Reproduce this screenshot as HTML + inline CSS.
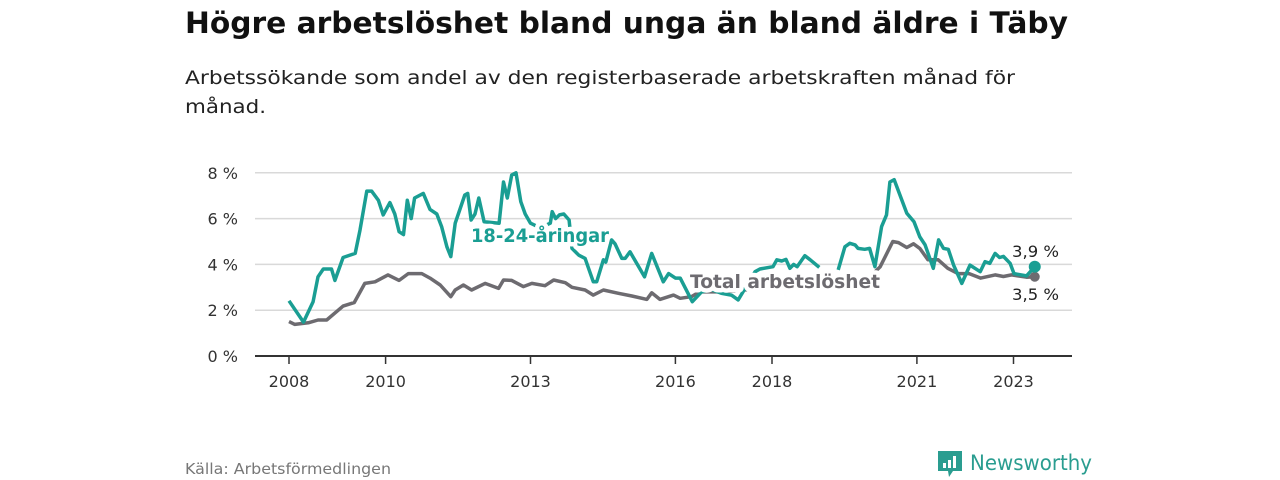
<!DOCTYPE html>
<html><head><meta charset="utf-8"><style>
html,body{margin:0;padding:0;background:#fff;width:1280px;height:480px;overflow:hidden}
svg{display:block;font-family:"Liberation Sans",sans-serif}
.dj{font-family:"DejaVu Sans","Liberation Sans",sans-serif}
</style></head><body>
<svg id="chart" width="1280" height="480" viewBox="0 0 1280 480">
<text class="dj" x="185" y="33" font-size="29" font-weight="bold" fill="#111" textLength="883" lengthAdjust="spacingAndGlyphs">Högre arbetslöshet bland unga än bland äldre i Täby</text>
<text class="dj" x="185" y="84" font-size="19" fill="#222" textLength="830" lengthAdjust="spacingAndGlyphs">Arbetssökande som andel av den registerbaserade arbetskraften månad för</text>
<text class="dj" x="185" y="113" font-size="19" fill="#222" textLength="81" lengthAdjust="spacingAndGlyphs">månad.</text>
<g id="grid"></g><g id="axes"></g><g id="series"></g><g id="labels"></g>
<text class="dj" x="185" y="474" font-size="15" fill="#777" textLength="206" lengthAdjust="spacingAndGlyphs">Källa: Arbetsförmedlingen</text>
<g>
<path d="M938 451 h24 v20 h-9 l-4 6 l-1 -6 h-10 z" fill="#2a9d90"/>
<rect x="943" y="463" width="3" height="5" fill="#fff"/><rect x="948" y="460" width="3" height="8" fill="#fff"/><rect x="953" y="456" width="3" height="12" fill="#fff"/>
<text class="dj" x="970" y="470" font-size="21" fill="#2a9d90" textLength="122" lengthAdjust="spacingAndGlyphs">Newsworthy</text>
</g>
</svg>
<script>
const youthDates=[2008.0,2008.3,2008.5,2008.6,2008.71,2008.88,2008.95,2009.12,2009.37,2009.47,2009.61,2009.71,2009.85,2009.95,2010.09,2010.19,2010.28,2010.37,2010.45,2010.53,2010.6,2010.78,2010.92,2011.06,2011.16,2011.27,2011.35,2011.44,2011.64,2011.7,2011.77,2011.85,2011.93,2012.04,2012.35,2012.44,2012.52,2012.61,2012.7,2012.8,2012.89,2013.0,2013.2,2013.41,2013.45,2013.52,2013.6,2013.69,2013.8,2013.86,2014.0,2014.13,2014.3,2014.37,2014.51,2014.56,2014.68,2014.75,2014.89,2014.96,2015.06,2015.36,2015.51,2015.75,2015.86,2016.0,2016.1,2016.35,2016.54,2016.75,2016.95,2017.16,2017.3,2017.4,2017.65,2017.75,2018.02,2018.1,2018.2,2018.29,2018.37,2018.45,2018.52,2018.68,2018.79,2018.98,2019.15,2019.37,2019.51,2019.61,2019.72,2019.78,2019.92,2020.02,2020.13,2020.27,2020.37,2020.44,2020.53,2020.79,2020.94,2021.06,2021.17,2021.34,2021.45,2021.55,2021.65,2021.76,2021.93,2022.1,2022.31,2022.41,2022.51,2022.62,2022.71,2022.79,2022.93,2023.01,2023.27,2023.44];
const youthValues=[2.41,1.48,2.37,3.46,3.8,3.8,3.3,4.3,4.48,5.5,7.2,7.2,6.8,6.16,6.7,6.2,5.43,5.3,6.8,6.0,6.9,7.1,6.4,6.2,5.65,4.77,4.34,5.8,7.03,7.1,5.94,6.2,6.9,5.86,5.8,7.6,6.9,7.9,8.0,6.74,6.2,5.8,5.6,5.8,6.3,6.0,6.16,6.2,5.94,4.7,4.4,4.26,3.24,3.24,4.2,4.1,5.07,4.9,4.26,4.26,4.55,3.46,4.48,3.24,3.6,3.4,3.4,2.37,2.8,2.9,2.74,2.66,2.45,2.8,3.68,3.8,3.9,4.2,4.15,4.22,3.83,4.0,3.9,4.38,4.2,3.87,null,3.76,4.77,4.92,4.85,4.7,4.66,4.7,3.9,5.65,6.16,7.6,7.7,6.23,5.86,5.2,4.85,3.83,5.07,4.7,4.66,3.97,3.17,3.97,3.68,4.12,4.05,4.48,4.3,4.35,4.05,3.6,3.5,3.9];
const totalDates=[2008.0,2008.12,2008.4,2008.6,2008.78,2009.12,2009.35,2009.57,2009.78,2010.05,2010.28,2010.47,2010.75,2010.92,2011.13,2011.35,2011.44,2011.61,2011.78,2012.06,2012.34,2012.44,2012.61,2012.85,2013.03,2013.3,2013.48,2013.72,2013.86,2014.13,2014.3,2014.51,2014.82,2015.1,2015.41,2015.51,2015.68,2015.96,2016.1,2016.33,2016.5,2017.0,2017.5,2018.0,2018.5,2019.0,2019.5,2019.9,2020.24,2020.5,2020.62,2020.79,2020.93,2021.06,2021.23,2021.44,2021.64,2021.85,2022.08,2022.32,2022.62,2022.79,2022.96,2023.27,2023.44];
const totalValues=[1.5,1.38,1.45,1.57,1.57,2.18,2.33,3.17,3.24,3.54,3.3,3.6,3.6,3.4,3.1,2.59,2.88,3.1,2.88,3.17,2.95,3.32,3.3,3.03,3.17,3.07,3.32,3.2,3.0,2.88,2.66,2.88,2.74,2.62,2.47,2.76,2.47,2.66,2.52,2.59,2.8,2.8,2.9,3.0,3.1,3.0,3.1,3.2,3.9,5.0,4.95,4.74,4.9,4.7,4.2,4.2,3.83,3.6,3.6,3.4,3.54,3.47,3.54,3.44,3.46];
const yTicks=[0,2,4,6,8];
const yTickLabels=["0 %","2 %","4 %","6 %","8 %"];
const xTicks=[2008,2010,2013,2016,2018,2021,2023];
const xTickLabels=["2008","2010","2013","2016","2018","2021","2023"];

const NS="http://www.w3.org/2000/svg";
const xS=d=>289+(d-2008)*48.3;
const yS=v=>356-v*22.9;
function mk(tag,attrs,parent){const e=document.createElementNS(NS,tag);for(const k in attrs)e.setAttribute(k,attrs[k]);parent.appendChild(e);return e;}
const grid=document.getElementById('grid'),axes=document.getElementById('axes'),ser=document.getElementById('series'),lab=document.getElementById('labels');
yTicks.forEach((t,i)=>{
  if(t>0){const l=mk('line',{x1:255,x2:1072,y1:yS(t),y2:yS(t),stroke:'#d9d9d9','stroke-width':1.5},grid);
  
  }
  const tx=mk('text',{x:238,y:yS(t)+6,'font-size':16,fill:'#333','text-anchor':'end',class:'dj'},axes);
  tx.textContent=yTickLabels[i];
  
  
});
const ax=mk('line',{x1:255,x2:1072,y1:356,y2:356,stroke:'#333','stroke-width':2},axes);


xTicks.forEach((t,i)=>{
  const tk=mk('line',{x1:xS(t),x2:xS(t),y1:356,y2:364,stroke:'#333','stroke-width':1.5},axes);
  
  
  const tx=mk('text',{x:xS(t),y:387,'font-size':16,fill:'#333','text-anchor':'middle',class:'dj'},axes);
  tx.textContent=xTickLabels[i];
  
  
});
function line(d,v){let s='',pen=false;d.forEach((x,i)=>{if(v[i]==null){pen=false;return;}s+=(pen?'L':'M')+xS(x).toFixed(1)+' '+yS(v[i]).toFixed(1)+' ';pen=true;});return s;}
const pt=mk('path',{d:line(totalDates,totalValues),fill:'none',stroke:'#6d6b70','stroke-width':3.5,'stroke-linejoin':'round'},ser);


const py=mk('path',{d:line(youthDates,youthValues),fill:'none',stroke:'#1a9e93','stroke-width':3.5,'stroke-linejoin':'round'},ser);


const dt=mk('circle',{cx:xS(totalDates[totalDates.length-1]),cy:yS(totalValues[totalValues.length-1]),r:5,fill:'#6d6b70'},ser);


const dy=mk('circle',{cx:xS(youthDates[youthDates.length-1]),cy:yS(youthValues[youthValues.length-1]),r:6,fill:'#1a9e93'},ser);


function label(txt,x,y,col,size,bold,name,len){
  const t=mk('text',{x:x,y:y,'font-size':size,fill:col,'font-weight':bold?'bold':'normal',stroke:'#fff','stroke-width':bold?9:4,'paint-order':'stroke','stroke-linejoin':'round',class:'dj'},lab);
  if(len){t.setAttribute('textLength',len);t.setAttribute('lengthAdjust','spacingAndGlyphs');}
  t.textContent=txt;
  
  
}
label('18-24-åringar',471,242,'#1a9e93',19,true,'youth-series-label',138);
label('Total arbetslöshet',690,288,'#6d6b70',19,true,'total-series-label',190);
label('3,9 %',1012,257,'#222',16,false,'youth-end-value',47);
label('3,5 %',1012,300,'#222',16,false,'total-end-value',47);
</script>
</body></html>
